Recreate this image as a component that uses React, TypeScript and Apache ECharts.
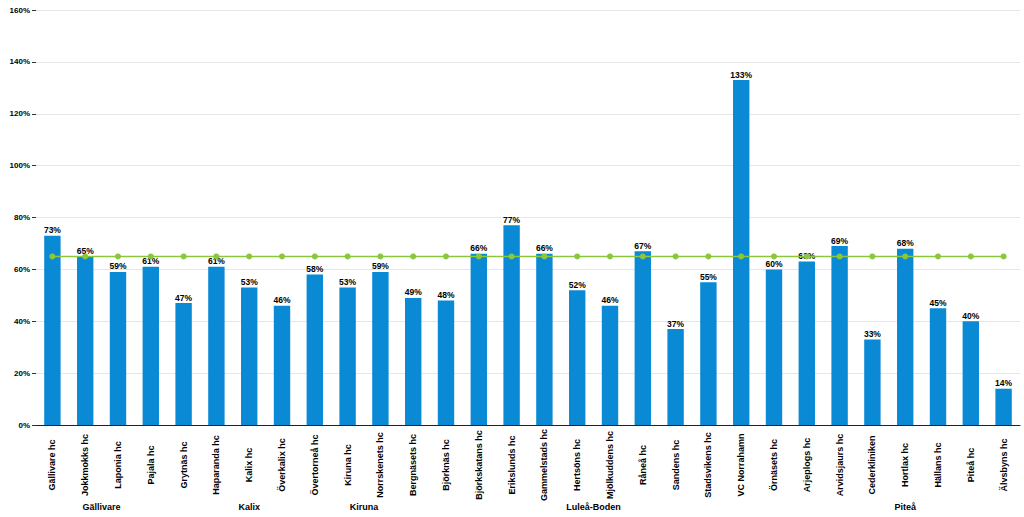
import React, { useEffect, useRef } from "react";
import * as echarts from "echarts";

const categories = [
  "Gällivare hc", "Jokkmokks hc", "Laponia hc", "Pajala hc", "Grytnäs hc",
  "Haparanda hc", "Kalix hc", "Överkalix hc", "Övertorneå hc", "Kiruna hc",
  "Norrskenets hc", "Bergnäsets hc", "Björknäs hc", "Björkskatans hc", "Erikslunds hc",
  "Gammelstads hc", "Hertsöns hc", "Mjölkuddens hc", "Råneå hc", "Sandens hc",
  "Stadsvikens hc", "VC Norrahamn", "Örnäsets hc", "Arjeplogs hc", "Arvidsjaurs hc",
  "Cederkliniken", "Hortlax hc", "Hällans hc", "Piteå hc", "Älvsbyns hc",
];
const values = [73, 65, 59, 61, 47, 61, 53, 46, 58, 53, 59, 49, 48, 66, 77, 66, 52, 46, 67, 37, 55, 133, 60, 63, 69, 33, 68, 45, 40, 14];
const target = categories.map(() => 65);
const groupNames = ["Gällivare", "Kalix", "Kiruna", "Luleå-Boden", "Piteå"];
const groupStart = [0, 4, 9, 11, 23];
const groupEnd = [3, 8, 10, 22, 29];

const FONT = "'Liberation Sans', Arial, sans-serif";

export default function App() {
  const ref = useRef<HTMLDivElement>(null);
  useEffect(() => {
    if (!ref.current) return;
    const chart = echarts.init(ref.current, undefined, { renderer: "svg" });
    chart.setOption({
      animation: false,
      backgroundColor: "#ffffff",
      grid: { left: 36, right: 4, top: 10, bottom: 92, containLabel: false },
      xAxis: {
        type: "category",
        data: categories,
        axisLine: { show: true, lineStyle: { color: "#222", width: 1 } },
        axisTick: { show: false },
        axisLabel: {
          rotate: 90,
          interval: 0,
          align: "center",
          margin: 40,
          fontSize: 9,
          fontWeight: "bold",
          color: "#000",
          fontFamily: FONT,
        },
      },
      yAxis: {
        type: "value",
        min: 0,
        max: 160,
        interval: 20,
        axisLine: { show: false },
        axisTick: { show: true, length: 4, lineStyle: { color: "#333" } },
        splitLine: { show: true, lineStyle: { color: "#e6e6e6", width: 1 } },
        axisLabel: {
          formatter: "{value}%",
          fontSize: 8,
          fontWeight: "bold",
          color: "#000",
          margin: 6,
          fontFamily: FONT,
        },
      },
      series: [
        {
          type: "bar",
          data: values,
          barWidth: "50%",
          itemStyle: { color: "#0A8AD4" },
          label: {
            show: true,
            position: "top",
            distance: 1,
            formatter: "{c}%",
            fontSize: 8.5,
            fontWeight: "bold",
            color: "#000",
            fontFamily: FONT,
          },
          z: 2,
        },
        {
          type: "line",
          data: target,
          symbol: "circle",
          symbolSize: 6,
          lineStyle: { color: "#8CC63C", width: 1.5 },
          itemStyle: { color: "#8CC63C" },
          z: 3,
        },
      ],
    });
    const graphics = groupNames.map((name, i) => {
      const a = chart.convertToPixel({ xAxisIndex: 0 }, groupStart[i]) as number;
      const b = chart.convertToPixel({ xAxisIndex: 0 }, groupEnd[i]) as number;
      return {
        type: "text",
        x: (a + b) / 2,
        y: 507,
        style: {
          text: name,
          fontSize: 9,
          fontWeight: "bold",
          fill: "#000",
          fontFamily: FONT,
          textAlign: "center",
          textVerticalAlign: "middle",
        },
      };
    });
    chart.setOption({ graphic: graphics });
    return () => chart.dispose();
  }, []);
  return (
    <div
      ref={ref}
      style={{ position: "absolute", left: 0, top: 0, width: 1024, height: 517 }}
    />
  );
}
